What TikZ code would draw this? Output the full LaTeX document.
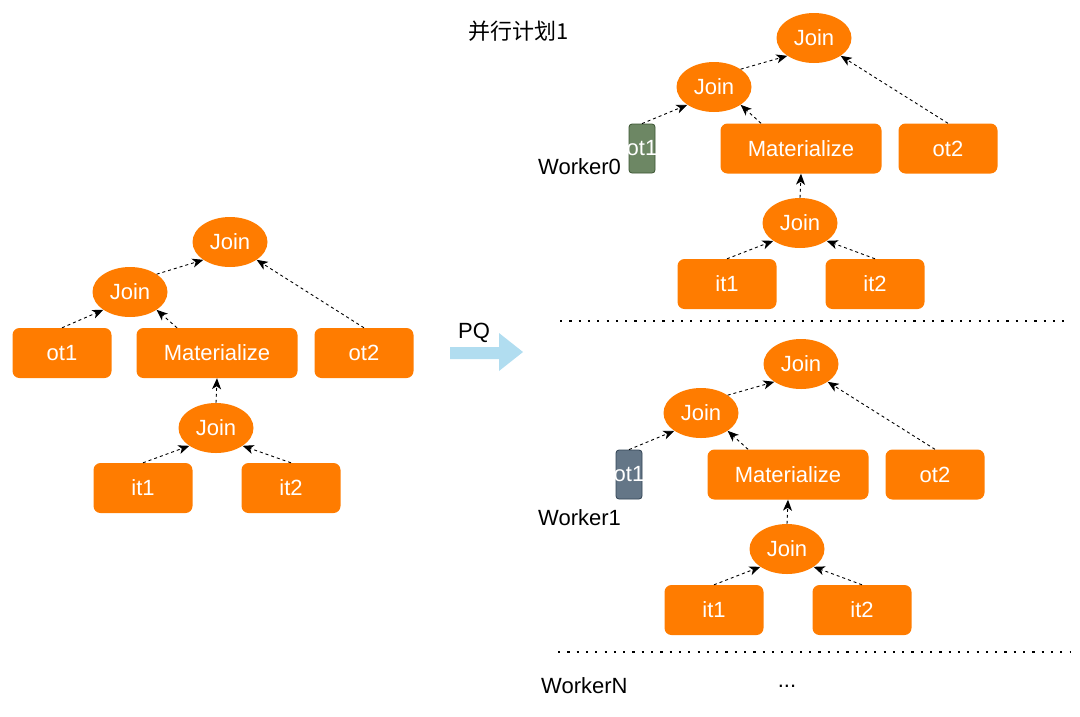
\documentclass[tikz,border=0pt]{standalone}
\usepackage{fontspec}
\setmainfont{Liberation Sans}
\newfontfamily\cjk{Noto Sans CJK SC}
\usetikzlibrary{shapes.geometric,arrows.meta}
\definecolor{orng}{RGB}{255,124,0}
\definecolor{pqblue}{RGB}{177,221,240}
\definecolor{gfill}{RGB}{109,135,100}
\definecolor{gline}{RGB}{58,84,49}
\definecolor{sfill}{RGB}{100,118,135}
\definecolor{sline}{RGB}{49,67,84}
\begin{document}
\begin{tikzpicture}[x=1pt,y=-1pt,
  font=\fontsize{22}{24}\selectfont,
  jn/.style={ellipse,fill=orng,text=white,minimum width=75pt,minimum height=50pt,inner sep=0pt},
  box/.style={rectangle,rounded corners=7pt,fill=orng,text=white,minimum width=99pt,minimum height=50pt,inner sep=0pt},
  mat/.style={box,minimum width=161pt},
  tiny/.style={rectangle,rounded corners=3pt,line width=0.8pt,minimum width=26pt,minimum height=49pt,inner sep=0pt},
  gbox/.style={tiny,fill=gfill,draw=gline},
  sbox/.style={tiny,fill=sfill,draw=sline},
  edge/.style={line width=0.9pt,dash pattern=on 3pt off 3pt,-{Stealth[length=11pt,width=9pt,inset=3pt]}},
  dots/.style={line width=2.2pt,dash pattern=on 2.2pt off 7.1pt},
  lbl/.style={anchor=west,inner sep=0pt}
]
\useasboundingbox (0,0) rectangle (1080,716);

% ---------- left tree ----------
\node[jn] (jt) at (230,242) {Join};
\node[jn] (jm) at (130,292) {Join};
\node[box] (ot1) at (62,353) {ot1};
\node[mat] (mt) at (217,353) {Materialize};
\node[box] (ot2) at (364,353) {ot2};
\node[jn] (jb) at (216,428) {Join};
\node[box] (it1) at (143,488) {it1};
\node[box] (it2) at (291,488) {it2};
\draw[edge] (ot1.north) -- (jm.south west);
\draw[edge] ([xshift=-40pt]mt.north) -- (jm.south east);
\draw[edge] (jm.north east) -- (jt.south west);
\draw[edge] (ot2.north) -- (jt.south east);
\draw[edge] (jb.north) -- (mt.south);
\draw[edge] (it1.north) -- (jb.south west);
\draw[edge] (it2.north) -- (jb.south east);

% ---------- PQ arrow ----------
\fill[pqblue] (450,347) -- (499,347) -- (499,333) -- (523,352) -- (499,371) -- (499,359) -- (450,359) -- cycle;
\node (pq) at (474,333) {PQ};

% ---------- title ----------
\node (title) at (519,31) {\cjk 并行计划1};

% ---------- worker 0 ----------
\node[jn] (ajt) at (814,38) {Join};
\node[jn] (ajm) at (714,87) {Join};
\node[gbox,label={[text=white,inner sep=0pt]center:ot1}] (aot1) at (642,148.5) {};
\node[mat] (amt) at (801,148.5) {Materialize};
\node[box] (aot2) at (948,148.5) {ot2};
\node[jn] (ajb) at (800,223) {Join};
\node[box] (ait1) at (727,284) {it1};
\node[box] (ait2) at (875,284) {it2};
\node[lbl] (w0) at (538,167) {Worker0};
\draw[edge] (aot1.north) -- (ajm.south west);
\draw[edge] ([xshift=-40pt]amt.north) -- (ajm.south east);
\draw[edge] (ajm.north east) -- (ajt.south west);
\draw[edge] (aot2.north) -- (ajt.south east);
\draw[edge] (ajb.north) -- (amt.south);
\draw[edge] (ait1.north) -- (ajb.south west);
\draw[edge] (ait2.north) -- (ajb.south east);

\coordinate (d1a) at (560,321);
\coordinate (d1b) at (1070,321);
\draw[dots] (d1a) -- (d1b);

% ---------- worker 1 ----------
\node[jn] (bjt) at (801,364) {Join};
\node[jn] (bjm) at (701,413) {Join};
\node[sbox,label={[text=white,inner sep=0pt]center:ot1}] (bot1) at (629,474.5) {};
\node[mat] (bmt) at (788,474.5) {Materialize};
\node[box] (bot2) at (935,474.5) {ot2};
\node[jn] (bjb) at (787,549) {Join};
\node[box] (bit1) at (714,610) {it1};
\node[box] (bit2) at (862,610) {it2};
\node[lbl] (w1) at (538,518) {Worker1};
\draw[edge] (bot1.north) -- (bjm.south west);
\draw[edge] ([xshift=-40pt]bmt.north) -- (bjm.south east);
\draw[edge] (bjm.north east) -- (bjt.south west);
\draw[edge] (bot2.north) -- (bjt.south east);
\draw[edge] (bjb.north) -- (bmt.south);
\draw[edge] (bit1.north) -- (bjb.south west);
\draw[edge] (bit2.north) -- (bjb.south east);

\coordinate (d2a) at (558,652);
\coordinate (d2b) at (1070,652);
\draw[dots] (d2a) -- (d2b);

\node[lbl] (wn) at (541,686) {WorkerN};
\node (ell) at (787,686) {...};
\end{tikzpicture}
\end{document}
